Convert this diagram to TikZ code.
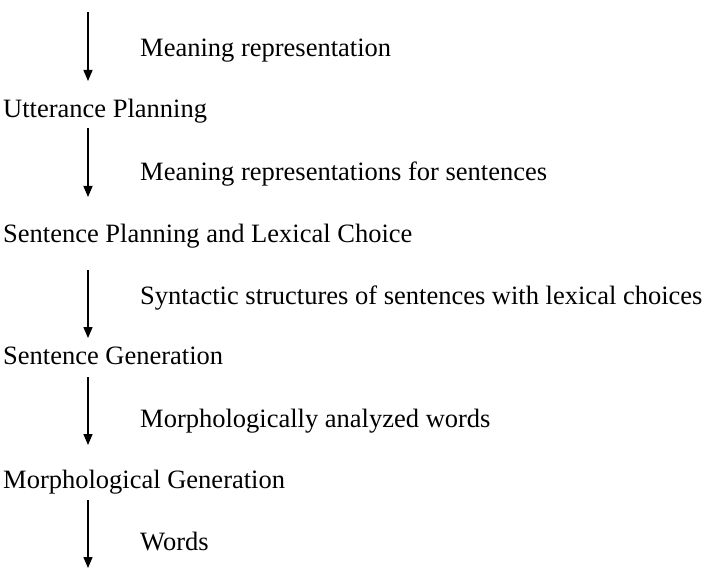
\documentclass[tikz,border=0pt]{standalone}
\usepackage{fontspec}
\setmainfont{Liberation Serif}
\usetikzlibrary{arrows.meta}

\begin{document}
\begin{tikzpicture}[>={Triangle[length=11bp,width=9bp]},x=1bp,y=-1bp,
        every node/.style={anchor=base west,inner sep=0pt,font=\fontsize{26.5bp}{32bp}\selectfont},
        flow/.style={->,line width=1.3bp}]
        \useasboundingbox (0,0) rectangle (710,573);
        \coordinate (top) at (88,12);
        \coordinate (bot) at (88,568);
        \node (utt) at (3,118) {Utterance Planning};
        \node (spl) at (3,242) {Sentence Planning and Lexical Choice};
        \node (sgen) at (3,364) {Sentence Generation};
        \node (mgen) at (3,488) {Morphological Generation};
        \node (mr) at (140,57) {Meaning representation};
        \node (mrs) at (140,181) {Meaning representations for sentences};
        \node (syn) at (140,304) {Syntactic structures of sentences with lexical choices};
        \node (maw) at (140,427) {Morphologically analyzed words};
        \node (wd) at (140,550) {Words};
        \draw [flow] (top) -- (88,81);
        \draw [flow] ([yshift=-10bp]utt.base -| top) -- (88,197);
        \draw [flow] ([yshift=-28bp]spl.base -| top) -- (88,338);
        \draw [flow] ([yshift=-13bp]sgen.base -| top) -- (88,445);
        \draw [flow] ([yshift=-12bp]mgen.base -| top) -- (bot);
        \end{tikzpicture}
\end{document}
